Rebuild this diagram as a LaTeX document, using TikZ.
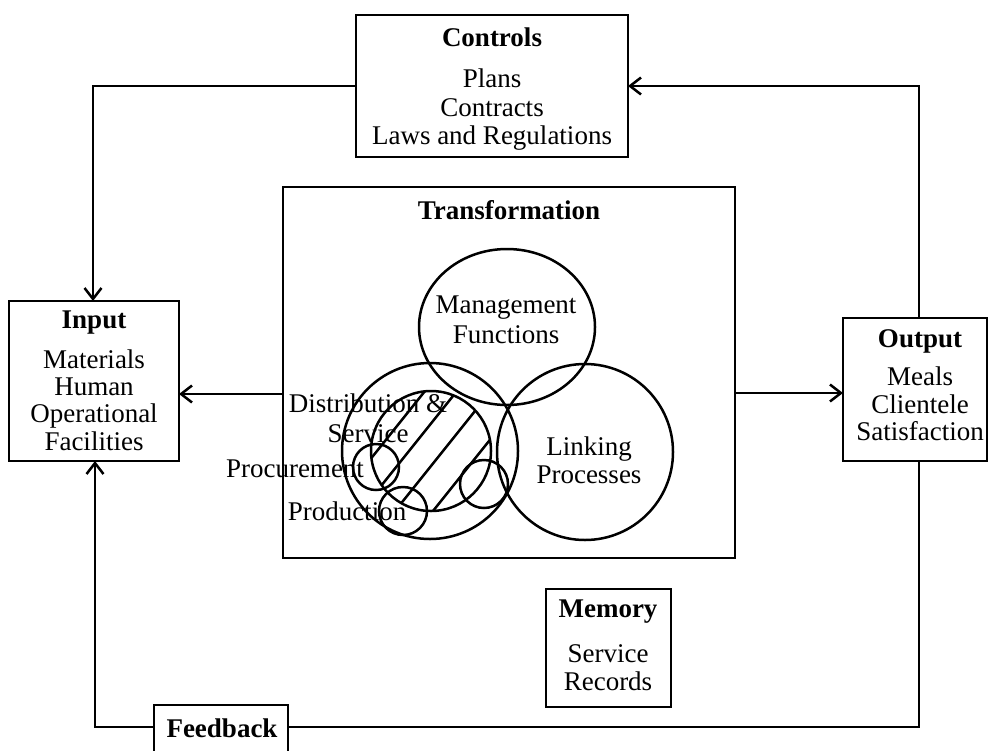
\documentclass[tikz,border=0pt]{standalone}
\usepackage{fontspec}
\setmainfont{Liberation Serif}
\usetikzlibrary{arrows.meta,shapes.geometric}
\begin{document}
\begin{tikzpicture}[x=1pt,y=-1pt,
  lw/.style={line width=2.5pt},
  box/.style={draw,lw,rectangle,inner sep=0pt,outer sep=0pt},
  ring/.style={draw,lw,circle,inner sep=0pt,outer sep=0pt},
  tx/.style={anchor=base,inner sep=0pt,font=\fontsize{27}{28}\selectfont},
  hd/.style={anchor=base,inner sep=0pt,font=\fontsize{27}{28}\selectfont\bfseries},
  arr/.style={lw,-{Straight Barb[length=11pt,width=17pt]}},
  con/.style={lw}]
\useasboundingbox (0,0) rectangle (990,750);

% boxes
\node[box,minimum width=272pt,minimum height=142pt] (ctrl) at (492,86) {};
\node[box,minimum width=170pt,minimum height=160pt] (in) at (94,381) {};
\node[box,minimum width=144pt,minimum height=143pt] (out) at (915,389.5) {};
\node[box,minimum width=452pt,minimum height=371pt] (tr) at (509,372.5) {};
\node[box,minimum width=125pt,minimum height=118pt] (mem) at (608.5,648) {};
\node[box,minimum width=134pt,minimum height=55pt] (fb) at (221,732.5) {};

% circles
\node[draw,lw,ellipse,inner sep=0pt,minimum width=176pt,minimum height=156pt] (mgmt) at (507,327) {};
\node[ring,minimum size=176pt] (dist) at (430,451) {};
\node[ring,minimum size=176pt] (link) at (585,452) {};
\node[ring,minimum size=120pt] (hat) at (431,451) {};
\node[ring,minimum size=46pt] (procc) at (376,467) {};
\node[ring,minimum size=48pt] (prodc) at (403,511) {};
\node[ring,minimum size=48pt] (smallc) at (484,484) {};
\begin{scope}
  \clip (431,451) circle [radius=60pt];
  \foreach \x in {377,409,443,481}
    \draw[lw] (\x-80,551) -- (\x+80,351);
\end{scope}

% texts
\node[hd] (ctrlT) at (492,46) {Controls};
\node[tx] (ctrl1) at (492,87) {Plans};
\node[tx] (ctrl2) at (492,116) {Contracts};
\node[tx] (ctrl3) at (492,144) {Laws and Regulations};

\node[hd] (inT) at (94,328) {Input};
\node[tx] (in1) at (94,368) {Materials};
\node[tx] (in2) at (94,395) {Human};
\node[tx] (in3) at (94,422) {Operational};
\node[tx] (in4) at (94,450) {Facilities};

\node[hd] (outT) at (920,347) {Output};
\node[tx] (out1) at (920,385) {Meals};
\node[tx] (out2) at (920,413) {Clientele};
\node[tx] (out3) at (920,440) {Satisfaction};

\node[hd] (memT) at (608,617) {Memory};
\node[tx] (mem1) at (608,662) {Service};
\node[tx] (mem2) at (608,690) {Records};

\node[hd] (fbT) at (222,737) {Feedback};

\node[hd] (trT) at (509,219) {Transformation};
\node[tx] (mg1) at (506,313) {Management};
\node[tx] (mg2) at (506,343) {Functions};
\node[tx] (lk1) at (589,455) {Linking};
\node[tx] (lk2) at (589,483) {Processes};
\node[tx] (ds1) at (368,412) {Distribution \&};
\node[tx] (ds2) at (368,442) {Service};
\node[tx] (pc) at (295,477) {Procurement};
\node[tx] (pd) at (347,520) {Production};

% connectors
\draw[arr] (ctrl.west) -| ([xshift=-1pt]in.north);
\draw[arr] ([xshift=4pt]out.north) |- (ctrl.east);
\draw[arr] (tr.west |- 0,394) -- (in.east |- 0,394);
\draw[arr] (tr.east |- 0,393) -- (out.west |- 0,393);
\draw[con] ([xshift=4pt]out.south) |- (fb.east |- 0,727);
\draw[arr] (fb.west |- 0,727) -| ([xshift=1pt]in.south);
\end{tikzpicture}
\end{document}
